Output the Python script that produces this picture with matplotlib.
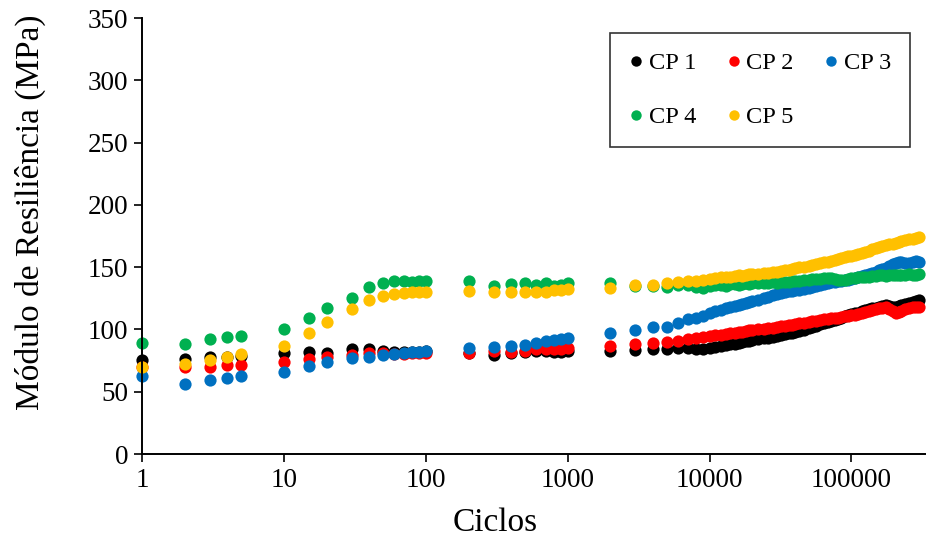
import matplotlib
matplotlib.use("Agg")
import matplotlib.pyplot as plt
from matplotlib.ticker import FixedLocator, FixedFormatter, NullLocator

plt.rcParams['font.family'] = ['Liberation Serif', 'DejaVu Serif']

# Ciclos: leituras iniciais e depois a parte densa
ciclos_ini = [1, 2, 3, 4, 5, 10, 15, 20, 30, 40, 50, 60, 70, 80, 90, 100,
              200, 300, 400, 500, 600, 700, 800, 900, 1000,
              2000, 3000, 4000, 5000]
ciclos_fim = [6000, 7000, 8000, 9000, 10000, 11000, 12000, 13000, 14000, 15000,
              16000, 17000, 18000, 19000, 20000, 22000, 24000, 26000, 28000, 30000,
              32000, 34000, 36000, 38000, 40000, 43000, 46000, 50000, 53000, 56000,
              60000, 64000, 68000, 72000, 76000, 80000, 85000, 90000, 95000, 100000,
              106000, 112000, 118000, 125000, 132000, 140000, 148000, 156000, 165000, 175000,
              185000, 195000, 205000, 215000, 225000, 240000, 255000, 270000, 285000, 300000]
ciclos = ciclos_ini + ciclos_fim

cp1 = [75.5, 76.0, 77.6, 77.6, 78.7, 80.8, 82.1, 81.3, 84.3, 84.0, 82.7, 81.5, 82.0, 82.0, 82.0, 82.5,
       81.0, 79.5, 80.8, 82.0, 82.5, 82.5, 82.0, 82.0, 82.4, 82.9, 83.5, 84.0, 84.3] + \
      [85.3, 85.0, 84.5, 84.3, 85.0, 85.8, 86.5, 87.5, 88.2, 88.5,
       89.3, 89.8, 90.5, 91.0, 91.3, 92.0, 93.0, 93.5, 94.3, 95.0,
       95.5, 96.2, 96.8, 97.3, 98.0, 98.8, 99.8, 101.0, 102.0, 103.0,
       104.0, 105.0, 106.0, 107.0, 107.8, 108.5, 109.5, 110.5, 111.3, 112.0,
       112.8, 113.5, 114.5, 115.5, 116.3, 117.0, 117.5, 118.3, 119.2, 119.8,
       119.0, 118.3, 118.0, 118.5, 119.5, 120.5, 121.3, 122.0, 122.8, 123.3]

cp2 = [69.5, 69.6, 69.8, 71.2, 71.5, 74.1, 76.0, 77.6, 79.5, 80.8, 80.8, 80.5, 80.5, 80.8, 80.8, 81.0,
       81.3, 82.4, 82.0, 82.9, 84.0, 84.3, 84.0, 84.3, 84.8, 86.7, 88.3, 89.4, 90.2] + \
      [91.0, 92.3, 93.2, 93.8, 94.5, 95.3, 95.8, 96.5, 97.2, 97.5,
       98.0, 98.3, 99.0, 99.2, 99.5, 100.0, 100.5, 101.0, 101.5, 102.0,
       102.5, 103.0, 103.3, 103.8, 104.2, 104.8, 105.5, 106.0, 106.5, 107.0,
       107.5, 108.0, 108.5, 108.8, 109.0, 109.5, 110.0, 110.5, 111.0, 111.3,
       111.8, 112.5, 113.0, 113.8, 114.5, 115.3, 116.0, 117.0, 117.5, 118.0,
       116.8, 115.0, 113.5, 113.8, 114.8, 116.0, 117.0, 117.8, 118.3, 118.0]

cp3 = [62.9, 56.4, 59.4, 61.3, 62.6, 66.1, 70.6, 73.6, 76.8, 78.1, 79.5, 80.3, 80.8, 81.5, 82.0, 82.9,
       85.3, 85.6, 87.0, 87.8, 88.9, 91.0, 91.5, 92.0, 93.1, 96.9, 99.5, 101.7, 102.2] + \
      [105.4, 108.1, 109.0, 111.0, 113.0, 114.5, 115.5, 117.0, 117.8, 118.5,
       119.5, 120.3, 121.5, 122.3, 123.0, 124.0, 125.5, 126.3, 127.5, 128.5,
       129.3, 129.8, 130.5, 131.0, 131.5, 132.0, 132.8, 133.5, 134.0, 134.8,
       135.5, 136.3, 137.0, 137.8, 138.3, 138.6, 139.0, 139.3, 140.0, 140.8,
       141.5, 142.3, 143.0, 144.0, 144.8, 145.5, 146.5, 147.5, 148.5, 149.5,
       151.0, 152.5, 153.5, 154.5, 154.0, 153.5, 153.0, 154.0, 154.8, 154.5]

cp4 = [89.4, 88.5, 92.6, 94.2, 95.0, 100.3, 109.4, 117.0, 125.5, 133.8, 137.3, 139.1, 139.1, 138.3, 139.1, 139.1,
       139.1, 135.1, 136.2, 137.0, 135.7, 137.0, 135.0, 135.4, 137.0, 137.0, 135.0, 134.9, 133.8] + \
      [135.7, 136.0, 134.0, 133.5, 135.0, 135.5, 136.0, 135.2, 136.3, 136.5,
       136.0, 136.8, 137.0, 136.6, 137.2, 137.0, 137.5, 137.3, 137.8, 137.6,
       138.0, 138.3, 138.0, 138.8, 139.0, 139.1, 139.7, 140.0, 140.5, 140.2,
       140.8, 141.0, 141.2, 141.0, 140.5, 140.0, 139.6, 139.7, 140.5, 141.0,
       141.3, 141.8, 142.0, 142.3, 142.0, 142.8, 143.0, 143.5, 143.7, 143.2,
       143.8, 143.5, 143.7, 144.0, 143.5, 143.8, 144.2, 143.6, 144.0, 144.5]

cp5 = [69.6, 72.2, 75.2, 77.9, 80.3, 87.0, 96.9, 105.7, 116.4, 123.4, 127.1, 128.2, 129.0, 130.0, 130.0, 130.3,
       130.6, 130.0, 130.0, 129.8, 130.0, 130.3, 131.6, 131.6, 132.7, 133.0, 135.7, 135.7, 137.0] + \
      [137.8, 138.6, 138.9, 139.5, 140.5, 141.5, 141.8, 142.3, 142.0, 142.8,
       143.5, 143.2, 144.0, 144.5, 144.3, 144.8, 145.3, 145.5, 146.0, 146.2,
       146.8, 147.5, 148.0, 148.6, 149.2, 149.8, 150.3, 151.0, 151.8, 152.5,
       153.0, 153.8, 154.5, 155.3, 155.8, 156.5, 157.2, 158.0, 158.6, 159.2,
       159.8, 160.5, 161.3, 162.2, 163.0, 164.2, 165.0, 165.8, 166.8, 167.5,
       168.2, 168.8, 169.5, 170.2, 170.8, 171.5, 172.2, 172.8, 173.3, 173.8]

series = [('CP 1', cp1, '#000000'),
          ('CP 2', cp2, '#FF0000'),
          ('CP 3', cp3, '#0070C0'),
          ('CP 4', cp4, '#00B050'),
          ('CP 5', cp5, '#FFC000')]

xticks = [1, 10, 100, 1000, 10000, 100000]
xlabels = ['1', '10', '100', '1000', '10000', '100000']

fig = plt.figure(figsize=(9.26, 5.40), dpi=100)
ax = fig.add_axes([142/926, 1 - 454/540, 1 - 142/926, 436/540])

handles = []
for name, vals, cor in series:
    h, = ax.plot(ciclos, vals, 'o', color=cor, markersize=8.8, markeredgewidth=0,
                 label=name, clip_on=False)
    handles.append(h)

ax.set_xscale('log')
ax.set_xlim(1, 3.35e5)
ax.set_ylim(0, 350)
ax.xaxis.set_major_locator(FixedLocator(xticks))
ax.xaxis.set_major_formatter(FixedFormatter(xlabels))
ax.xaxis.set_minor_locator(NullLocator())
ax.set_yticks(range(0, 351, 50))

for s in ['top', 'right']:
    ax.spines[s].set_visible(False)
for s in ['left', 'bottom']:
    ax.spines[s].set_linewidth(1.4)
ax.tick_params(direction='out', length=6, width=1.2, labelsize=19.5, pad=4)

fig.text(495/926, 1 - 523/540, 'Ciclos', ha='center', va='center', fontsize=24)
fig.text(30/926, 1 - 212/540, 'Módulo de Resiliência (MPa)', ha='center', va='center',
         rotation=90, fontsize=24)

# ordem por linhas: CP1 CP2 CP3 / CP4 CP5
ordem = [0, 3, 1, 4, 2]
leg = ax.legend([handles[i] for i in ordem], [series[i][0] for i in ordem],
                ncol=3, loc='upper right',
                bbox_to_anchor=((910 - 142) / 784, (454 - 33) / 436),
                borderaxespad=0, fontsize=17.6, markerscale=0.85,
                handlelength=0.6, handletextpad=0.2, columnspacing=1.25,
                labelspacing=1.3, borderpad=0.78, fancybox=False, frameon=True)
leg.get_frame().set_edgecolor('black')
leg.get_frame().set_linewidth(1.2)

fig.savefig('out.png', dpi=100)
